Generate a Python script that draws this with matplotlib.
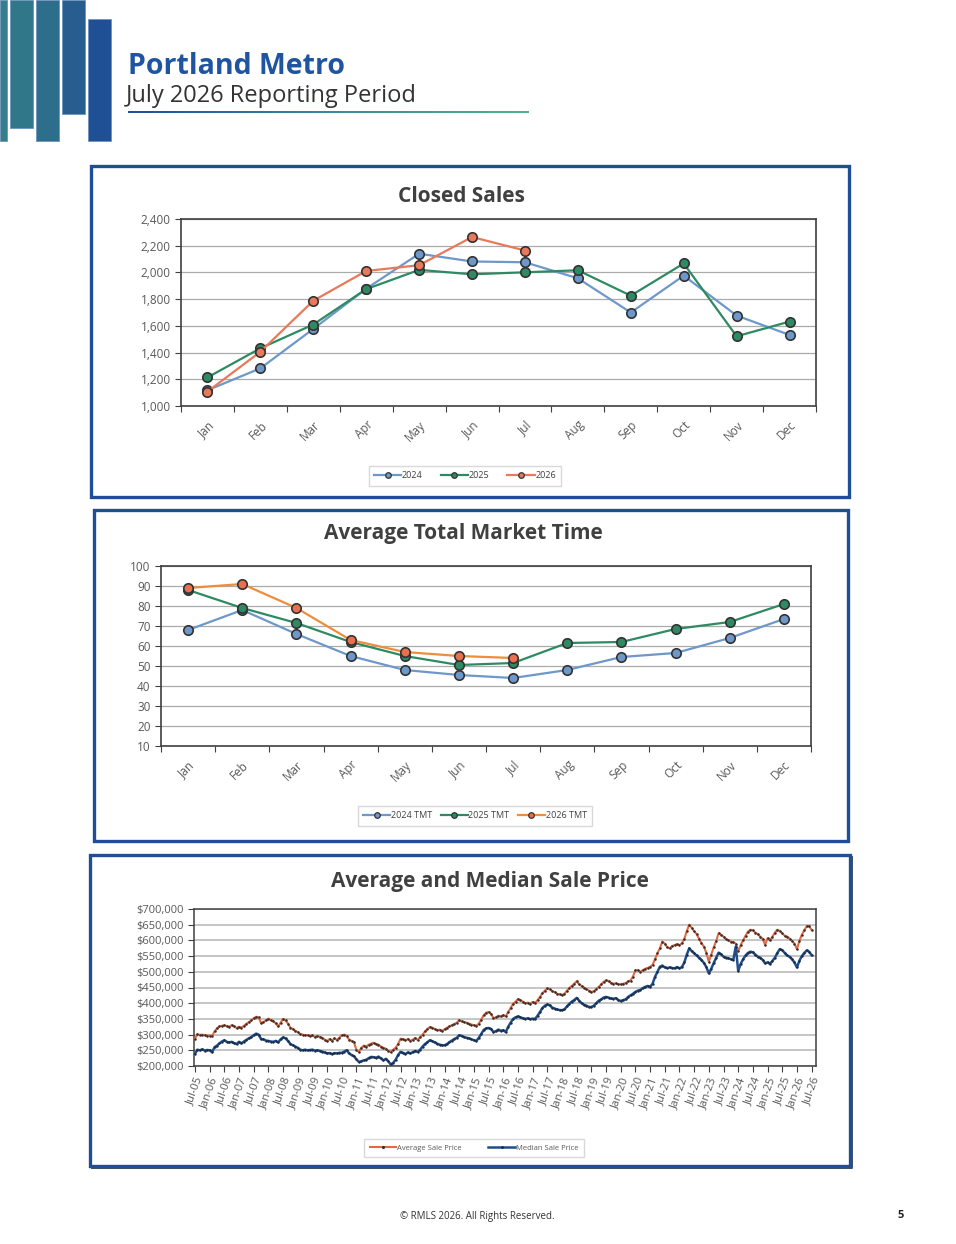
import numpy as np
import pandas as pd
import matplotlib
matplotlib.use('Agg')
import matplotlib.pyplot as plt
from matplotlib.patches import Rectangle
from matplotlib.lines import Line2D
from matplotlib.colors import LinearSegmentedColormap
from matplotlib.ticker import FuncFormatter

plt.rcParams['font.family'] = ['Open Sans', 'DejaVu Sans']

# ---- data ----
months = ['Jan', 'Feb', 'Mar', 'Apr', 'May', 'Jun',
          'Jul', 'Aug', 'Sep', 'Oct', 'Nov', 'Dec']

sales_2024 = [1118, 1282, 1577, 1878, 2140, 2082, 2076, 1956, 1700, 1976, 1677, 1532]
sales_2025 = [1214, 1432, 1610, 1875, 2019, 1986, 2001, 2016, 1826, 2067, 1522, 1632]
sales_2026 = [1108, 1406, 1788, 2011, 2054, 2265, 2164]

tmt_2024 = [68, 78, 66, 55, 48, 45.5, 44, 48, 54.5, 56.5, 64, 73.5]
tmt_2025 = [88, 79, 71.5, 62, 55, 50.5, 51.5, 61.5, 62, 68.5, 72, 81]
tmt_2026 = [89, 91, 79, 63, 57, 55, 54]

# monthly prices in $1000, Jul-05 .. Jul-26
avg_price = [
    287, 301, 299, 300, 298, 297,                                   # 2005 (Jul-Dec)
    297, 296, 310, 320, 326, 328, 330, 327, 325, 330, 326, 321,     # 2006
    325, 322, 328, 334, 340, 345, 352, 357, 355, 337, 340, 345,     # 2007
    351, 346, 343, 336, 326, 338, 350, 345, 335, 322, 318, 312,     # 2008
    308, 302, 300, 298, 298, 296, 298, 292, 296, 293, 290, 284,     # 2009
    279, 286, 280, 288, 283, 290, 298, 300, 296, 284, 280, 276,     # 2010
    250, 245, 258, 265, 262, 268, 271, 274, 270, 268, 262, 258,     # 2011
    255, 248, 245, 252, 258, 270, 287, 285, 282, 286, 280, 284,     # 2012
    289, 283, 292, 300, 310, 318, 324, 322, 318, 314, 316, 312,     # 2013
    317, 322, 326, 330, 334, 338, 346, 342, 340, 338, 335, 332,     # 2014
    330, 328, 335, 348, 362, 370, 372, 366, 352, 355, 360, 358,     # 2015
    362, 358, 372, 385, 398, 405, 413, 410, 405, 400, 402, 398,     # 2016
    404, 400, 410, 420, 432, 440, 447, 445, 438, 436, 430, 428,     # 2017
    426, 430, 440, 448, 455, 462, 470, 460, 455, 450, 445, 440,     # 2018
    436, 438, 445, 452, 460, 468, 473, 470, 465, 462, 463, 460,     # 2019
    460, 462, 464, 470, 472, 485, 505, 505, 500, 505, 510, 512,     # 2020
    516, 522, 540, 559, 575, 596, 590, 578, 575, 582, 585, 588,     # 2021
    585, 591, 605, 630, 650, 640, 629, 620, 605, 591, 580, 560,     # 2022
    532, 555, 578, 598, 623, 618, 612, 605, 600, 596, 594, 590,     # 2023
    565, 585, 600, 615, 628, 634, 632, 625, 620, 612, 605, 586,     # 2024
    607, 600, 612, 625, 634, 630, 622, 615, 612, 606, 598, 590,     # 2025
    572, 598, 618, 632, 645, 646, 633,                              # 2026 (Jan-Jul)
]
med_price = [
    239, 252, 250, 253, 249, 251,                                   # 2005
    250, 244, 260, 265, 272, 278, 282, 277, 275, 277, 273, 270,     # 2006
    277, 272, 278, 283, 288, 292, 298, 303, 300, 286, 285, 281,     # 2007
    280, 278, 277, 280, 275, 285, 291, 288, 280, 270, 266, 262,     # 2008
    258, 252, 250, 252, 250, 251, 252, 249, 250, 248, 246, 243,     # 2009
    240, 241, 238, 241, 240, 242, 242, 246, 250, 240, 235, 231,     # 2010
    221, 213, 215, 218, 220, 225, 229, 228, 226, 230, 224, 218,     # 2011
    223, 215, 205, 210, 220, 235, 245, 242, 238, 243, 240, 244,     # 2012
    248, 245, 252, 262, 270, 276, 282, 279, 275, 271, 268, 266,     # 2013
    266, 270, 276, 281, 286, 290, 298, 296, 292, 290, 288, 285,     # 2014
    282, 280, 290, 302, 315, 320, 321, 318, 308, 311, 316, 312,     # 2015
    314, 308, 325, 338, 350, 355, 358, 355, 352, 350, 352, 349,     # 2016
    351, 350, 360, 372, 385, 392, 396, 393, 386, 383, 380, 378,     # 2017
    378, 380, 390, 398, 405, 410, 417, 408, 400, 395, 392, 388,     # 2018
    388, 392, 400, 408, 412, 418, 420, 418, 415, 414, 416, 410,     # 2019
    407, 410, 412, 420, 425, 430, 436, 440, 442, 448, 452, 455,     # 2020
    452, 462, 484, 500, 516, 520, 514, 512, 514, 512, 511, 515,     # 2021
    511, 515, 530, 555, 575, 566, 559, 552, 545, 538, 528, 515,     # 2022
    495, 510, 528, 545, 561, 556, 548, 545, 543, 540, 538, 580,     # 2023
    503, 525, 540, 552, 560, 564, 562, 555, 548, 545, 538, 527,     # 2024
    530, 525, 535, 545, 560, 572, 569, 560, 552, 548, 540, 530,     # 2025
    514, 535, 550, 560, 568, 564, 553,                              # 2026
]

price_dates = pd.date_range('2005-07-01', periods=len(avg_price), freq='MS')

# ---- page ----
W, H = 956, 1244
fig = plt.figure(figsize=(W / 100, H / 100), dpi=100)


def box(x0, y0, x1, y1):
    return [x0 / W, 1 - y1 / H, (x1 - x0) / W, (y1 - y0) / H]


def frect(x0, y0, x1, y1, **kw):
    fig.patches.append(Rectangle((x0 / W, 1 - y1 / H), (x1 - x0) / W, (y1 - y0) / H,
                                 transform=fig.transFigure, **kw))


def fline(xs, ys, **kw):
    fig.add_artist(Line2D([x / W for x in xs], [1 - y / H for y in ys],
                          transform=fig.transFigure, **kw))


# header bars
for x0, y0, x1, y1, c in [(0, 0, 7, 141, '#367e89'), (10, 0, 33, 128, '#307789'),
                          (36, 0, 59, 141, '#2c6e8b'), (62, 0, 85, 114, '#275e8f'),
                          (88, 19, 111, 141, '#1f4f95')]:
    frect(x0, y0, x1, y1, facecolor=c, edgecolor='#6f93bd', lw=0.6)

fig.text(128 / W, 1 - 74 / H, 'Portland Metro', fontsize=20.5, fontweight='bold',
         color='#1f55a0', va='baseline')
fig.text(126 / W, 1 - 102 / H, 'July 2026 Reporting Period', fontsize=17,
         color='#333333', va='baseline')

grad_ax = fig.add_axes(box(128, 110.5, 529, 113))
grad_cmap = LinearSegmentedColormap.from_list('hdr', ['#1f4f9e', '#3a8a9a', '#4db38a'])
grad_ax.imshow(np.linspace(0, 1, 200)[None, :], aspect='auto', cmap=grad_cmap)
grad_ax.axis('off')

# panel frames
frect(91, 166, 849, 497, facecolor='none', edgecolor='#1f4e96', lw=2.4)
frect(94, 510, 848, 841, facecolor='none', edgecolor='#1f4e96', lw=2.4)
fline([92, 851.5, 851.5], [1167.5, 1167.5, 857], color='#3b4c66', lw=1.4)
frect(90, 855, 850, 1166, facecolor='none', edgecolor='#1f4e96', lw=2.4)

tick_col = '#595959'


def month_chart(rect, title, title_xy, series, ylim, ystep, fmt, legend_xy, colsp):
    ax = fig.add_axes(box(*rect))
    x = np.arange(12) + 0.5
    for vals, name, lc, mc in series:
        ax.plot(x[:len(vals)], vals, color=lc, lw=1.6, marker='o', ms=6.8,
                mfc=mc, mec='#333333', mew=1.2, label=name, zorder=3)
    ax.set_xlim(0, 12)
    ax.set_ylim(*ylim)
    ax.set_yticks(np.arange(ylim[0], ylim[1] + 1, ystep))
    ax.yaxis.set_major_formatter(fmt)
    ax.set_xticks(np.arange(13))
    ax.set_xticklabels([])
    ax.set_xticks(x, minor=True)
    ax.set_xticklabels(months, minor=True, rotation=45, ha='right',
                       rotation_mode='anchor', fontsize=8.5, color=tick_col)
    ax.tick_params(axis='x', which='minor', length=0, pad=9)
    ax.tick_params(which='major', length=4, direction='out', color='#404040',
                   labelsize=8.5, labelcolor=tick_col)
    ax.grid(axis='y', color='#ababab', lw=0.9)
    ax.set_axisbelow(True)
    for s in ax.spines.values():
        s.set_color('#404040')
        s.set_linewidth(1.2)
    fig.text(title_xy[0] / W, 1 - title_xy[1] / H, title, fontsize=15,
             fontweight='bold', color='#404040', ha='center', va='center')
    handles = [Line2D([], [], color=lc, lw=1.6, marker='o', ms=4, mfc=mc,
                      mec='#333333', mew=0.9) for _, _, lc, mc in series]
    fig.legend(handles, [s[1] for s in series], loc='center',
               bbox_to_anchor=(legend_xy[0] / W, 1 - legend_xy[1] / H), ncol=3,
               fontsize=6.5, frameon=True, fancybox=False, edgecolor='#d0d0d0',
               handlelength=3, columnspacing=colsp, handletextpad=0.1,
               borderpad=0.6, labelcolor='#404040')
    return ax


comma = FuncFormatter(lambda v, p: f'{v:,.0f}')
blue, green, orange = '#6d98c9', '#2e8a62', '#e9795a'

month_chart((181, 219, 816, 406), 'Closed Sales', (461, 196),
            [(sales_2024, '2024', blue, blue),
             (sales_2025, '2025', green, green),
             (sales_2026, '2026', orange, orange)],
            (1000, 2400), 200, comma, (465, 476), 2.0)

month_chart((161, 566, 811, 746), 'Average Total Market Time', (463, 534),
            [(tmt_2024, '2024 TMT', blue, blue),
             (tmt_2025, '2025 TMT', green, green),
             (tmt_2026, '2026 TMT', '#ee8d3a', '#e8704f')],
            (10, 100), 10, comma, (475, 816), 0.9)

# ---- price chart ----
ax = fig.add_axes(box(194, 909, 816, 1066))
xi = np.arange(len(avg_price))
ax.plot(xi, np.array(avg_price) * 1000, color='#e06a45', lw=1.5, marker='.',
        ms=1.6, mfc='#3a2a25', mec='#3a2a25', label='Average Sale Price', zorder=3)
ax.plot(xi, np.array(med_price) * 1000, color='#1f4e8c', lw=1.8, marker='.',
        ms=1.4, mfc='#1a2a40', mec='#1a2a40', label='Median Sale Price', zorder=3)
ax.set_xlim(-0.4, 253.8)
ax.set_ylim(200000, 700000)
ax.set_yticks(np.arange(200000, 700001, 50000))
ax.yaxis.set_major_formatter(FuncFormatter(lambda v, p: f'${v:,.0f}'))
tick_idx = np.arange(0, len(avg_price), 6)
ax.set_xticks(tick_idx)
ax.set_xticklabels(price_dates[tick_idx].strftime('%b-%y'), rotation=70,
                   ha='right', rotation_mode='anchor', fontsize=8, color=tick_col)
ax.tick_params(axis='x', pad=3)
ax.tick_params(which='major', length=4, direction='out', color='#404040',
               labelsize=8, labelcolor=tick_col)
ax.grid(axis='y', color='#b5b5b5', lw=1.1)
ax.set_axisbelow(True)
for s in ax.spines.values():
    s.set_color('#404040')
    s.set_linewidth(1.1)
fig.text(490 / W, 1 - 881 / H, 'Average and Median Sale Price', fontsize=15,
         fontweight='bold', color='#404040', ha='center', va='center')
fig.legend(*ax.get_legend_handles_labels(), loc='center',
           bbox_to_anchor=(474 / W, 1 - 1148 / H), ncol=2, fontsize=5.5,
           frameon=True, fancybox=False, edgecolor='#d0d0d0', handlelength=3.5,
           columnspacing=3.5, handletextpad=0.1, borderpad=0.7,
           labelcolor='#595959', markerscale=1.5)

# footer
fig.text(477 / W, 1 - 1216 / H, '\u00a9 RMLS 2026. All Rights Reserved.',
         fontsize=7, color='#333333', ha='center', va='center')
fig.text(901 / W, 1 - 1216 / H, '5', fontsize=8, color='#222222',
         ha='center', va='center', fontweight='bold')

fig.savefig('out.png', dpi=100)
